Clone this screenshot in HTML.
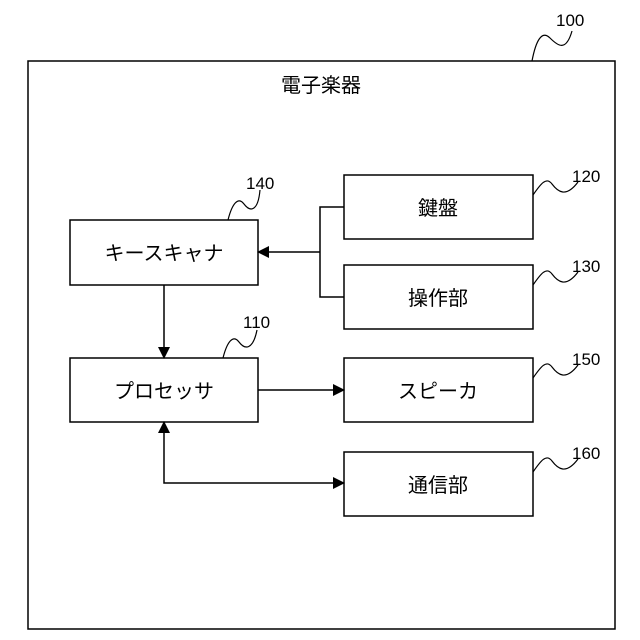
<!DOCTYPE html>
<html><head><meta charset="utf-8"><style>
html,body{margin:0;padding:0;background:#fff;}
svg{display:block;}
text{font-family:"Liberation Sans","Noto Sans CJK JP",sans-serif;fill:#000;}
</style></head><body>
<svg width="640" height="640" viewBox="0 0 640 640" xmlns="http://www.w3.org/2000/svg">
<defs>
<marker id="a" markerWidth="12" markerHeight="12" refX="11" refY="6" orient="auto" markerUnits="userSpaceOnUse">
<path d="M0,0 L12,6 L0,12 z" fill="#000"/></marker>
<marker id="b" markerWidth="12" markerHeight="12" refX="1" refY="6" orient="auto" markerUnits="userSpaceOnUse">
<path d="M12,0 L0,6 L12,12 z" fill="#000"/></marker>
</defs>
<g fill="none" stroke="#000" stroke-width="1.5">
<rect x="28" y="61" width="587" height="568"/>
<rect x="70" y="220" width="188" height="65"/>
<rect x="344" y="175" width="189" height="64"/>
<rect x="344" y="265" width="189" height="64"/>
<rect x="70" y="358" width="188" height="64"/>
<rect x="344" y="358" width="189" height="64"/>
<rect x="344" y="452" width="189" height="64"/>
<!-- connectors -->
<polyline points="344,207 320,207 320,297 344,297"/>
<line x1="320" y1="252" x2="258" y2="252" marker-end="url(#a)"/>
<line x1="164" y1="285" x2="164" y2="358" marker-end="url(#a)"/>
<line x1="258" y1="390" x2="344" y2="390" marker-end="url(#a)"/>
<polyline points="164,422 164,483 344,483" marker-start="url(#b)" marker-end="url(#a)"/>
<!-- squiggles -->
<path d="M532,61 C536,40 542,30 550,38 C558,46 566,52 572,31" stroke-width="1.2"/>
<path d="M533,195 C540,185 546,176 552,184 C558,192 566,198 578,182" stroke-width="1.2"/>
<path d="M533,285 C540,275 546,266 552,274 C558,282 566,288 578,272" stroke-width="1.2"/>
<path d="M533,378 C540,368 546,359 552,367 C558,375 566,381 578,365" stroke-width="1.2"/>
<path d="M533,472 C540,462 546,453 552,461 C558,469 566,475 578,459" stroke-width="1.2"/>
<path d="M228,220 C232,204 238,196 244,204 C250,212 258,212 260,190" stroke-width="1.2"/>
<path d="M223,358 C227,342 233,334 239,342 C245,350 253,350 257,330" stroke-width="1.2"/>
</g>
<g font-size="17">
<text x="556" y="26">100</text>
<text x="572" y="182">120</text>
<text x="572" y="272">130</text>
<text x="246" y="189">140</text>
<text x="243" y="328">110</text>
<text x="572" y="365">150</text>
<text x="572" y="459">160</text>
</g>
<g font-size="20" text-anchor="middle">
<text x="321" y="92">電子楽器</text>
<text x="164" y="260">キースキャナ</text>
<text x="438" y="215">鍵盤</text>
<text x="438" y="305">操作部</text>
<text x="164" y="398">プロセッサ</text>
<text x="438" y="398">スピーカ</text>
<text x="438" y="492">通信部</text>
</g>
</svg>
</body></html>
